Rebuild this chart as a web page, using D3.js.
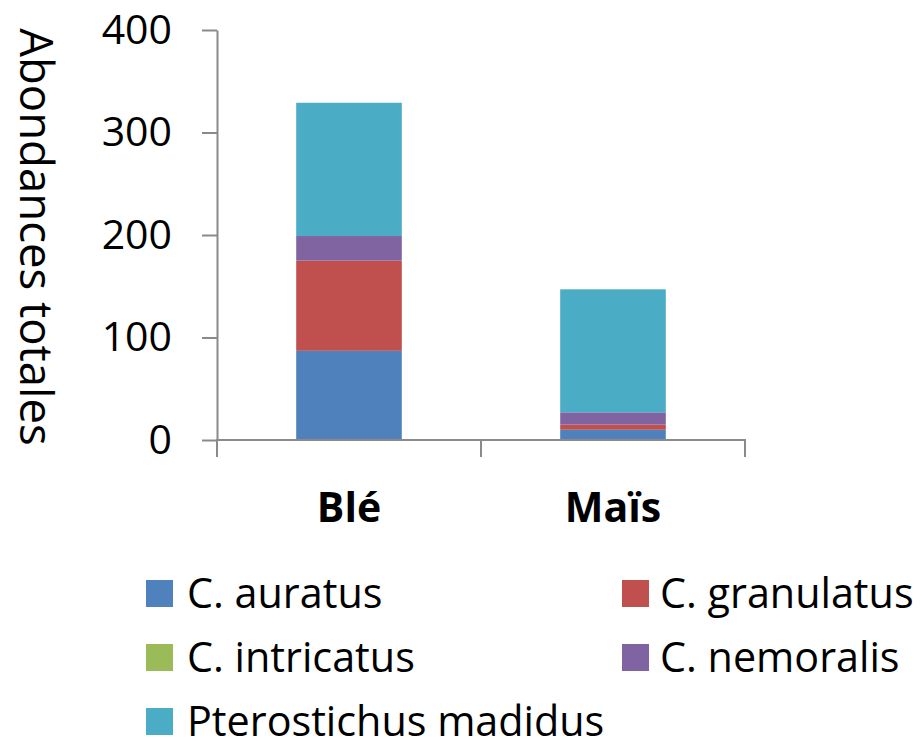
<!DOCTYPE html>
<html>
<head>
<meta charset="utf-8">
<script src="https://cdn.jsdelivr.net/npm/d3@7"></script>
<style>
  html, body { margin: 0; padding: 0; background: #fff; }
  svg { display: block; font-family: "Open Sans", sans-serif; }
</style>
</head>
<body>
<svg id="chart" width="922" height="741"></svg>
<script>
// Cultures (x categories)
const cultures = ["Blé", "Maïs"];
// Species stacked in each bar, bottom to top
const species = ["C. auratus", "C. granulatus", "C. intricatus", "C. nemoralis", "Pterostichus madidus"];
// Abundance per species, in the order of `cultures`
const auratus = [87, 10];
const granulatus = [88, 5];
const intricatus = [0, 0];
const nemoralis = [24, 12];
const madidus = [130, 120];
const colors = ["#4F81BD", "#C0504D", "#9BBB59", "#8064A2", "#4BACC6"];
const yTicks = [0, 100, 200, 300, 400];
const yTitle = "Abondances totales";

const seriesValues = [auratus, granulatus, intricatus, nemoralis, madidus];
const rows = cultures.map((c, i) => {
  const r = { culture: c };
  species.forEach((s, j) => { r[s] = seriesValues[j][i]; });
  return r;
});

const svg = d3.select("#chart");
const axisColor = "#8a8a8a";

const x = d3.scaleBand().domain(cultures).range([217, 745])
  .paddingInner(0.6).paddingOuter(0.3);
const y = d3.scaleLinear().domain([0, 400]).range([440, 30]);
const color = d3.scaleOrdinal().domain(species).range(colors);

const stacked = d3.stack().keys(species)(rows);

// Stacked bars
svg.append("g").selectAll("g")
  .data(stacked)
  .join("g")
  .attr("fill", d => color(d.key))
  .selectAll("rect")
  .data(d => d)
  .join("rect")
  .attr("x", d => x(d.data.culture))
  .attr("width", x.bandwidth())
  .attr("y", d => y(d[1]))
  .attr("height", d => y(d[0]) - y(d[1]));

// Y axis
const yAxis = svg.append("g")
  .attr("transform", `translate(${x.range()[0]},0)`)
  .call(d3.axisLeft(y).tickValues(yTicks).tickSize(15).tickSizeOuter(0).tickPadding(30));
yAxis.select(".domain").attr("stroke", axisColor).attr("stroke-width", 2);
yAxis.selectAll(".tick line").attr("stroke", axisColor).attr("stroke-width", 2);
yAxis.selectAll(".tick text")
  .attr("font-family", "Open Sans")
  .attr("font-size", 41)
  .attr("fill", "#000");

// X axis line with boundary ticks between categories
const xAxisG = svg.append("g").attr("transform", `translate(0,${y(0)})`);
xAxisG.append("line")
  .attr("x1", x.range()[0]).attr("x2", x.range()[1])
  .attr("stroke", axisColor).attr("stroke-width", 2);
const boundaries = d3.range(cultures.length + 1)
  .map(i => x.range()[0] + (x.range()[1] - x.range()[0]) * i / cultures.length);
xAxisG.selectAll("line.bound")
  .data(boundaries)
  .join("line")
  .attr("class", "bound")
  .attr("x1", d => d).attr("x2", d => d)
  .attr("y1", -1).attr("y2", 17)
  .attr("stroke", axisColor).attr("stroke-width", 2);

// Category labels
svg.append("g").selectAll("text")
  .data(cultures)
  .join("text")
  .attr("x", d => x(d) + x.bandwidth() / 2)
  .attr("y", 522)
  .attr("text-anchor", "middle")
  .attr("font-size", 41)
  .attr("font-weight", "bold")
  .attr("fill", "#000")
  .text(d => d);

// Y axis title, reading top to bottom
svg.append("text")
  .attr("transform", `translate(20,${(y(400) + y(0)) / 2 + 2}) rotate(90)`)
  .attr("text-anchor", "middle")
  .attr("font-size", 45.5)
  .attr("fill", "#000")
  .text(yTitle);

// Legend: two columns, three rows
const legend = svg.append("g");
const colX = [146, 622];
const rowY = [608, 672, 736];
const items = legend.selectAll("g")
  .data(species)
  .join("g")
  .attr("transform", (d, i) => `translate(${colX[i % 2]},${rowY[Math.floor(i / 2)]})`);
items.append("rect")
  .attr("x", 0).attr("y", -28)
  .attr("width", 27).attr("height", 27)
  .attr("fill", d => color(d));
items.append("text")
  .attr("x", (d, i) => i % 2 === 0 ? 41 : 38)
  .attr("y", 0)
  .attr("font-size", 41.3)
  .attr("fill", "#000")
  .text(d => d);
</script>
</body>
</html>
